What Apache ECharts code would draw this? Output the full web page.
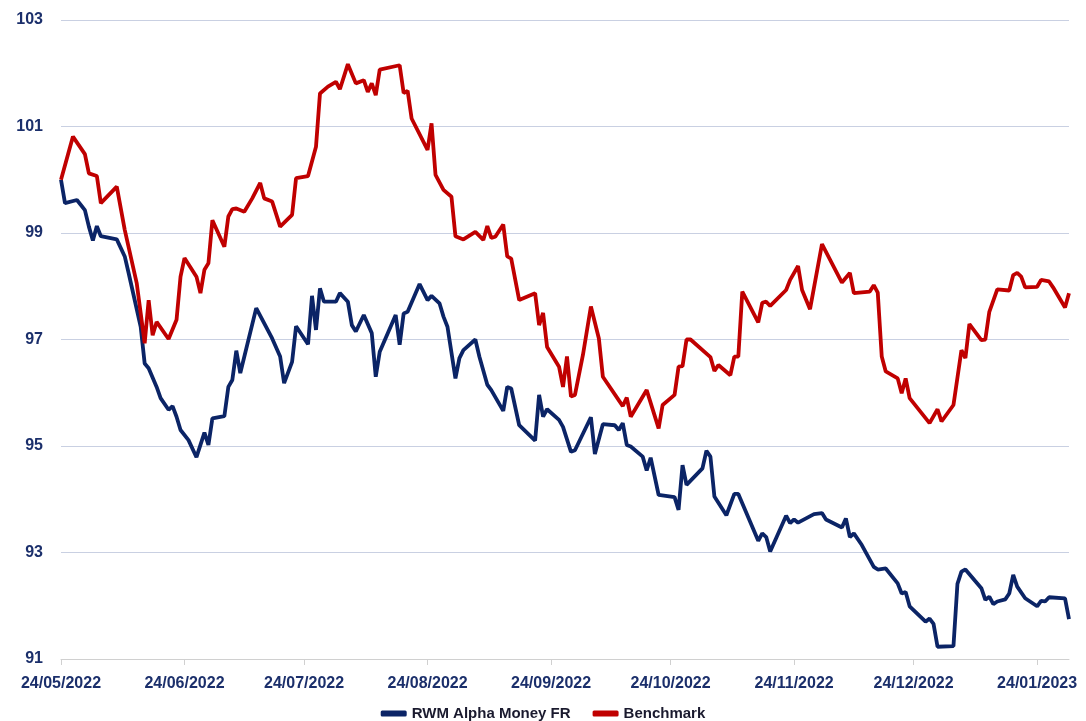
<!DOCTYPE html>
<html>
<head>
<meta charset="utf-8">
<script src="https://cdn.jsdelivr.net/npm/echarts@6/dist/echarts.min.js"></script>
<style>
  html, body { margin: 0; padding: 0; background: #fff; }
  #chart { width: 1086px; height: 721px; }
</style>
</head>
<body>
<div id="chart"></div>
<script>
// x-axis ticks (dates shown under the axis)
const tickDates = ['2022-05-24', '2022-06-24', '2022-07-24', '2022-08-24', '2022-09-24',
  '2022-10-24', '2022-11-24', '2022-12-24', '2023-01-24']

// RWM Alpha Money FR
const fundDates = [
  '2022-05-24', '2022-05-25', '2022-05-28', '2022-05-30', '2022-05-31', '2022-06-01', '2022-06-02', '2022-06-03',
  '2022-06-07', '2022-06-09', '2022-06-10', '2022-06-13', '2022-06-14', '2022-06-15', '2022-06-17', '2022-06-18',
  '2022-06-20', '2022-06-21', '2022-06-22', '2022-06-23', '2022-06-25', '2022-06-27', '2022-06-29', '2022-06-30',
  '2022-07-01', '2022-07-04', '2022-07-05', '2022-07-06', '2022-07-07', '2022-07-08', '2022-07-12', '2022-07-16',
  '2022-07-18', '2022-07-19', '2022-07-21', '2022-07-22', '2022-07-25', '2022-07-26', '2022-07-27', '2022-07-28',
  '2022-07-29', '2022-08-01', '2022-08-02', '2022-08-04', '2022-08-05', '2022-08-06', '2022-08-08', '2022-08-10',
  '2022-08-11', '2022-08-12', '2022-08-16', '2022-08-17', '2022-08-18', '2022-08-19', '2022-08-22', '2022-08-24',
  '2022-08-25', '2022-08-27', '2022-08-28', '2022-08-29', '2022-08-31', '2022-09-01', '2022-09-02', '2022-09-05',
  '2022-09-06', '2022-09-08', '2022-09-09', '2022-09-12', '2022-09-13', '2022-09-14', '2022-09-16', '2022-09-20',
  '2022-09-21', '2022-09-22', '2022-09-23', '2022-09-26', '2022-09-27', '2022-09-29', '2022-09-30', '2022-10-04',
  '2022-10-05', '2022-10-07', '2022-10-10', '2022-10-11', '2022-10-12', '2022-10-13', '2022-10-14', '2022-10-17',
  '2022-10-18', '2022-10-19', '2022-10-21', '2022-10-25', '2022-10-26', '2022-10-27', '2022-10-28', '2022-11-01',
  '2022-11-02', '2022-11-03', '2022-11-04', '2022-11-07', '2022-11-09', '2022-11-10', '2022-11-15', '2022-11-16',
  '2022-11-17', '2022-11-18', '2022-11-22', '2022-11-23', '2022-11-24', '2022-11-25', '2022-11-29', '2022-12-01',
  '2022-12-02', '2022-12-06', '2022-12-07', '2022-12-08', '2022-12-09', '2022-12-11', '2022-12-14', '2022-12-15',
  '2022-12-17', '2022-12-20', '2022-12-21', '2022-12-22', '2022-12-23', '2022-12-27', '2022-12-28', '2022-12-29',
  '2022-12-30', '2023-01-03', '2023-01-04', '2023-01-05', '2023-01-06', '2023-01-10', '2023-01-11', '2023-01-12',
  '2023-01-13', '2023-01-14', '2023-01-16', '2023-01-17', '2023-01-18', '2023-01-19', '2023-01-21', '2023-01-24',
  '2023-01-25', '2023-01-26', '2023-01-27', '2023-01-31', '2023-02-01'
]
const fundValues = [
  100.00, 99.56, 99.62, 99.43, 99.12, 98.86, 99.13, 98.94,
  98.88, 98.56, 98.24, 97.24, 96.55, 96.46, 96.11, 95.90,
  95.68, 95.75, 95.55, 95.30, 95.11, 94.79, 95.25, 95.02,
  95.52, 95.56, 96.11, 96.24, 96.79, 96.37, 97.59, 97.02,
  96.68, 96.18, 96.58, 97.25, 96.91, 97.82, 97.18, 97.96,
  97.71, 97.71, 97.87, 97.71, 97.27, 97.15, 97.46, 97.12,
  96.30, 96.77, 97.46, 96.90, 97.49, 97.52, 98.04, 97.74,
  97.82, 97.68, 97.43, 97.24, 96.27, 96.65, 96.80, 97.00,
  96.68, 96.15, 96.05, 95.66, 96.11, 96.08, 95.39, 95.10,
  95.96, 95.55, 95.69, 95.49, 95.36, 94.89, 94.92, 95.54,
  94.85, 95.41, 95.39, 95.30, 95.43, 95.02, 94.99, 94.80,
  94.54, 94.78, 94.08, 94.04, 93.80, 94.64, 94.27, 94.58,
  94.91, 94.80, 94.05, 93.70, 94.10, 94.10, 93.22, 93.36,
  93.29, 93.02, 93.69, 93.55, 93.62, 93.56, 93.72, 93.74,
  93.62, 93.47, 93.64, 93.29, 93.36, 93.14, 92.73, 92.68,
  92.70, 92.42, 92.23, 92.26, 91.99, 91.70, 91.76, 91.66,
  91.23, 91.24, 92.41, 92.64, 92.68, 92.33, 92.11, 92.17,
  92.03, 92.08, 92.12, 92.23, 92.58, 92.36, 92.14, 91.99,
  92.09, 92.08, 92.16, 92.14, 91.75
]

// Benchmark
const benchDates = [
  '2022-05-24', '2022-05-27', '2022-05-30', '2022-05-31', '2022-06-02', '2022-06-03', '2022-06-07', '2022-06-09',
  '2022-06-12', '2022-06-14', '2022-06-15', '2022-06-16', '2022-06-17', '2022-06-20', '2022-06-22', '2022-06-23',
  '2022-06-24', '2022-06-27', '2022-06-28', '2022-06-29', '2022-06-30', '2022-07-01', '2022-07-04', '2022-07-05',
  '2022-07-06', '2022-07-07', '2022-07-09', '2022-07-11', '2022-07-13', '2022-07-14', '2022-07-16', '2022-07-18',
  '2022-07-21', '2022-07-22', '2022-07-25', '2022-07-27', '2022-07-28', '2022-07-30', '2022-08-01', '2022-08-02',
  '2022-08-04', '2022-08-06', '2022-08-08', '2022-08-09', '2022-08-10', '2022-08-11', '2022-08-12', '2022-08-17',
  '2022-08-18', '2022-08-19', '2022-08-20', '2022-08-24', '2022-08-25', '2022-08-26', '2022-08-28', '2022-08-30',
  '2022-08-31', '2022-09-02', '2022-09-05', '2022-09-07', '2022-09-08', '2022-09-09', '2022-09-10', '2022-09-12',
  '2022-09-13', '2022-09-14', '2022-09-16', '2022-09-20', '2022-09-21', '2022-09-22', '2022-09-23', '2022-09-26',
  '2022-09-27', '2022-09-28', '2022-09-29', '2022-09-30', '2022-10-02', '2022-10-04', '2022-10-06', '2022-10-07',
  '2022-10-12', '2022-10-13', '2022-10-14', '2022-10-18', '2022-10-21', '2022-10-22', '2022-10-25', '2022-10-26',
  '2022-10-27', '2022-10-28', '2022-10-29', '2022-11-03', '2022-11-04', '2022-11-05', '2022-11-08', '2022-11-09',
  '2022-11-10', '2022-11-11', '2022-11-15', '2022-11-16', '2022-11-17', '2022-11-18', '2022-11-22', '2022-11-23',
  '2022-11-25', '2022-11-26', '2022-11-28', '2022-12-01', '2022-12-06', '2022-12-08', '2022-12-09', '2022-12-13',
  '2022-12-14', '2022-12-15', '2022-12-16', '2022-12-17', '2022-12-20', '2022-12-21', '2022-12-22', '2022-12-23',
  '2022-12-28', '2022-12-30', '2022-12-31', '2023-01-03', '2023-01-05', '2023-01-06', '2023-01-07', '2023-01-10',
  '2023-01-11', '2023-01-12', '2023-01-14', '2023-01-17', '2023-01-18', '2023-01-19', '2023-01-20', '2023-01-21',
  '2023-01-24', '2023-01-25', '2023-01-27', '2023-01-28', '2023-01-31', '2023-02-01'
]
const benchValues = [
  100.00, 100.81, 100.48, 100.12, 100.07, 99.56, 99.87, 99.06,
  98.06, 96.93, 97.74, 97.08, 97.33, 97.01, 97.37, 98.18,
  98.53, 98.18, 97.87, 98.31, 98.43, 99.24, 98.74, 99.31,
  99.45, 99.46, 99.40, 99.65, 99.94, 99.65, 99.59, 99.12,
  99.34, 100.03, 100.07, 100.62, 101.62, 101.75, 101.84, 101.70,
  102.17, 101.81, 101.87, 101.65, 101.81, 101.59, 102.07, 102.15,
  101.63, 101.67, 101.15, 100.56, 101.06, 100.09, 99.81, 99.68,
  98.94, 98.88, 99.02, 98.87, 99.13, 98.91, 98.93, 99.16,
  98.56, 98.52, 97.74, 97.87, 97.27, 97.50, 96.86, 96.49,
  96.11, 96.68, 95.93, 95.96, 96.71, 97.62, 97.02, 96.30,
  95.75, 95.91, 95.55, 96.05, 95.33, 95.77, 95.96, 96.49,
  96.50, 97.00, 97.00, 96.67, 96.41, 96.52, 96.33, 96.68,
  96.68, 97.90, 97.32, 97.69, 97.71, 97.63, 97.93, 98.12,
  98.38, 97.93, 97.57, 98.79, 98.07, 98.25, 97.87, 97.90,
  98.02, 97.88, 96.68, 96.40, 96.27, 95.99, 96.27, 95.90,
  95.43, 95.69, 95.46, 95.77, 96.80, 96.65, 97.29, 96.99,
  97.00, 97.52, 97.94, 97.92, 98.21, 98.25, 98.18, 97.98,
  97.99, 98.12, 98.09, 97.98, 97.60, 97.87
]

const NAVY = '#0b2466'
const RED = '#c00000'
const LABEL = '#1b2f6b'

const toTime = d => echarts.number.parseDate(d).getTime()
const pad = n => (n < 10 ? '0' : '') + n
const pairs = (dates, values) => dates.map((d, i) => [toTime(d), values[i]])
const tickTimes = tickDates.map(toTime)

const chart = echarts.init(document.getElementById('chart'))

const option = {
  animation: false,
  backgroundColor: '#ffffff',
  grid: {
    left: 61,
    right: 17,
    top: 20,
    bottom: 62
  },
  legend: {
    top: 701,
    left: 'center',
    itemWidth: 26,
    itemHeight: 6,
    itemGap: 22,
    icon: 'roundRect',
    textStyle: {
      color: '#1a1a2e',
      fontFamily: 'Liberation Sans',
      fontWeight: 'bold',
      fontSize: 15
    },
    data: ['RWM Alpha Money FR', 'Benchmark']
  },
  xAxis: {
    type: 'value',
    min: tickTimes[0],
    max: toTime('2023-02-01'),
    axisLine: { lineStyle: { color: '#d0d0d0', width: 1 } },
    axisTick: {
      show: true,
      length: 6,
      customValues: tickTimes,
      lineStyle: { color: '#d0d0d0' }
    },
    axisLabel: {
      customValues: tickTimes,
      color: LABEL,
      fontFamily: 'Liberation Sans',
      fontWeight: 'bold',
      fontSize: 16,
      margin: 17,
      formatter: function (v) {
        const d = new Date(v)
        return pad(d.getDate()) + '/' + pad(d.getMonth() + 1) + '/' + d.getFullYear()
      }
    },
    splitLine: { show: false }
  },
  yAxis: {
    type: 'value',
    min: 91,
    max: 103,
    interval: 2,
    axisLine: { show: false },
    axisTick: { show: false },
    axisLabel: {
      color: LABEL,
      fontFamily: 'Liberation Sans',
      fontWeight: 'bold',
      fontSize: 16,
      margin: 18
    },
    splitLine: { lineStyle: { color: '#c9d0e2', width: 1 } }
  },
  series: [
    {
      name: 'RWM Alpha Money FR',
      type: 'line',
      data: pairs(fundDates, fundValues),
      showSymbol: false,
      lineStyle: { color: NAVY, width: 3.8 },
      itemStyle: { color: NAVY }
    },
    {
      name: 'Benchmark',
      type: 'line',
      data: pairs(benchDates, benchValues),
      showSymbol: false,
      lineStyle: { color: RED, width: 3.8 },
      itemStyle: { color: RED }
    }
  ]
}

chart.setOption(option)
</script>
</body>
</html>
